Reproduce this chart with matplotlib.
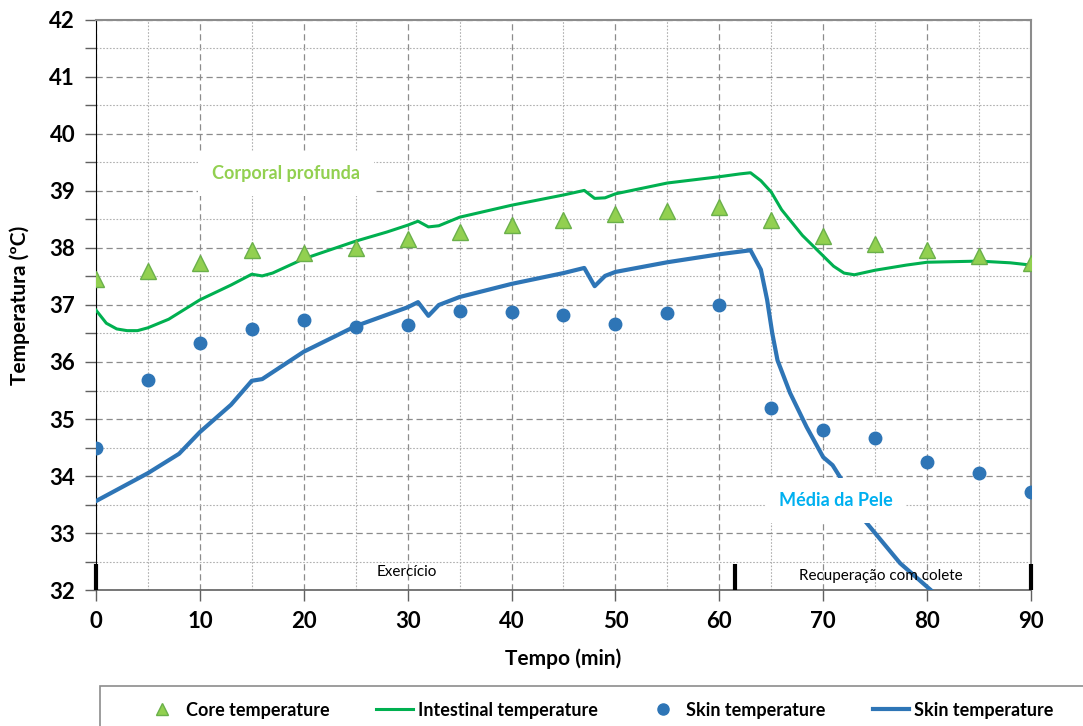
import matplotlib
matplotlib.use('Agg')
import matplotlib.pyplot as plt
from matplotlib.lines import Line2D
from matplotlib.patches import Rectangle
from matplotlib.ticker import MultipleLocator

plt.rcParams['font.family'] = ['Lato', 'DejaVu Sans']

# Point measurements every 5 min
t_points = [0, 5, 10, 15, 20, 25, 30, 35, 40, 45, 50, 55, 60, 65, 70, 75, 80, 85, 90]
core_temp = [37.46, 37.60, 37.74, 37.96, 37.91, 38.00, 38.16, 38.28, 38.40, 38.49,
             38.60, 38.65, 38.72, 38.49, 38.21, 38.07, 37.96, 37.86, 37.74]
skin_temp = [34.49, 35.68, 36.33, 36.58, 36.74, 36.61, 36.65, 36.90, 36.88, 36.82,
             36.67, 36.86, 37.00, 35.19, 34.81, 34.67, 34.25, 34.05, 33.72]

# Continuous intestinal temperature
t_int = [0, 1, 2, 3, 4, 5, 7, 10, 13, 15, 16, 17, 20, 25, 28, 30, 31, 32, 33, 35,
         40, 45, 47, 48, 49, 50, 55, 60, 62, 63, 64, 65, 66, 68, 70, 71, 72, 73,
         75, 78, 80, 85, 88, 90]
int_temp = [36.91, 36.68, 36.58, 36.55, 36.55, 36.60, 36.75, 37.09, 37.35, 37.54,
            37.51, 37.56, 37.81, 38.12, 38.28, 38.40, 38.47, 38.37, 38.39, 38.54,
            38.75, 38.93, 39.01, 38.87, 38.88, 38.95, 39.14, 39.25, 39.30, 39.32,
            39.18, 38.98, 38.67, 38.22, 37.86, 37.68, 37.56, 37.53, 37.61, 37.70,
            37.75, 37.77, 37.74, 37.70]

# Continuous mean skin temperature
t_skin = [0, 5, 8, 10, 13, 15, 16, 20, 25, 30, 31, 32, 33, 35, 40, 45, 47, 48, 49,
          50, 55, 60, 63, 64, 64.6, 65.1, 65.6, 66.8, 68.4, 70, 70.9, 71.9, 73.8,
          77.4, 80.6]
skin_line = [33.56, 34.05, 34.39, 34.77, 35.25, 35.67, 35.70, 36.18, 36.63, 36.96,
             37.05, 36.81, 37.00, 37.14, 37.37, 37.56, 37.65, 37.33, 37.51, 37.58,
             37.75, 37.89, 37.96, 37.62, 37.09, 36.50, 36.03, 35.46, 34.86, 34.33,
             34.19, 33.90, 33.26, 32.47, 31.96]

# Phase boundaries
phase_x = [0, 61.5, 90]

fig = plt.figure(figsize=(10.83, 7.26), dpi=100)
ax = fig.add_axes([0.0886, 0.1873, 0.8634, 0.7852])

ax.plot(t_int, int_temp, color='#00B050', lw=2.2, zorder=3)
ax.plot(t_skin, skin_line, color='#2E75B6', lw=3, zorder=3)
ax.plot(t_points, core_temp, linestyle='none', marker='^', ms=12,
        markerfacecolor='#92D050', markeredgecolor='#6AB04A', zorder=4)
ax.plot(t_points, skin_temp, linestyle='none', marker='o', ms=9,
        markerfacecolor='#2E75B6', markeredgecolor='#2E75B6', zorder=4)

ax.set_xlim(0, 90)
ax.set_ylim(32, 42)
ax.xaxis.set_major_locator(MultipleLocator(10))
ax.xaxis.set_minor_locator(MultipleLocator(5))
ax.yaxis.set_major_locator(MultipleLocator(1))
ax.yaxis.set_minor_locator(MultipleLocator(0.5))

ax.grid(which='major', color='#8c8c8c', linestyle=(0, (5, 3)), lw=0.9)
ax.grid(which='minor', color='#b0b0b0', linestyle=(0, (1.5, 1.5)), lw=0.8)
ax.set_axisbelow(True)

for side in ['top', 'right']:
    ax.spines[side].set_color('#8c8c8c')
    ax.spines[side].set_linewidth(1.5)
ax.spines['left'].set_color('black')
ax.spines['bottom'].set_color('#606060')
ax.spines['bottom'].set_linewidth(1.2)

ax.tick_params(which='both', direction='out', color='#606060', length=8, width=1)
ax.tick_params(axis='x', which='minor', length=0)
ax.tick_params(axis='both', which='major', labelsize=16, pad=7)
for lab in ax.get_xticklabels() + ax.get_yticklabels():
    lab.set_fontweight('bold')

ax.set_xlabel('Tempo (min)', fontsize=15, fontweight='bold', labelpad=12)
ax.set_ylabel('Temperatura (ºC)', fontsize=15, fontweight='bold', labelpad=14)

# Phase markers and labels
for xp in phase_x:
    ax.plot([xp, xp], [32, 32.45], color='black', lw=3, solid_capstyle='butt',
            zorder=5, clip_on=False)
ax.text(29.9, 32.32, 'Exercício', fontsize=11, ha='center', va='center')
ax.text(75.5, 32.25, 'Recuperação com colete', fontsize=11, ha='center',
        va='center')

ax.text(18.3, 39.3, 'Corporal profunda', color='#92D050', fontsize=13,
        fontweight='bold', ha='center', va='center', zorder=6,
        bbox=dict(facecolor='white', edgecolor='none', pad=10))
ax.text(71.2, 33.57, 'Média da Pele', color='#00B0F0', fontsize=13,
        fontweight='bold', ha='center', va='center', zorder=6,
        bbox=dict(facecolor='white', edgecolor='none', pad=10))

# Legend box (extends past the figure edge like the original)
fig.patches.append(Rectangle((0.0923, -0.1), 1.0, 0.155, transform=fig.transFigure,
                             fill=False, edgecolor='#8c8c8c', lw=1.2))

handles = [
    Line2D([], [], linestyle='none', marker='^', ms=9, markerfacecolor='#92D050',
           markeredgecolor='#6AB04A'),
    Line2D([], [], color='#00B050', lw=2.2),
    Line2D([], [], linestyle='none', marker='o', ms=8, markerfacecolor='#2E75B6',
           markeredgecolor='#2E75B6'),
    Line2D([], [], color='#2E75B6', lw=3),
]
labels = ['Core temperature', 'Intestinal temperature', 'Skin temperature',
          'Skin temperature']
leg = fig.legend(handles, labels, loc='center', ncol=4,
                 bbox_to_anchor=(0.553, 0.022), fontsize=13, frameon=False,
                 handlelength=2, handletextpad=0.3, columnspacing=2.6)
for txt in leg.get_texts():
    txt.set_fontweight('bold')

fig.savefig('out.png', dpi=100)
